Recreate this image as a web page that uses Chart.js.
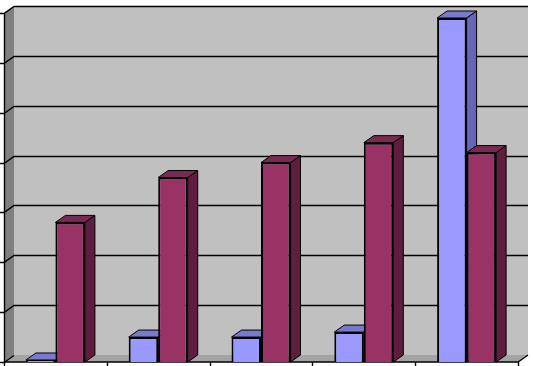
<!DOCTYPE html>
<html>
<head>
<meta charset="utf-8">
<script src="https://cdn.jsdelivr.net/npm/chart.js@4/dist/chart.umd.min.js"></script>
<style>
  html, body { margin: 0; padding: 0; background: #fff; }
  #wrap { width: 533px; height: 366px; }
</style>
</head>
<body>
<div id="wrap"><canvas id="grafico"></canvas></div>
<script>
// categories (no labels shown in the picture)
const categorias = ['1', '2', '3', '4', '5'];
// series values
const serie1 = [0.4, 5, 5, 6, 69];
const serie2 = [28, 37, 40, 44, 42];
// value axis
const yMin = 0;
const yMax = 70;
const yPaso = 10;

// 3d look
const fondo = '#c0c0c0';
const paredIzq = '#808080';
const piso = '#a4a4a4';
const prof = { dx: 10, dy: -7 };
const caras = [
  { frente: '#9999ff', lado: '#6666b3', techo: '#7a7acc' },
  { frente: '#993366', lado: '#5e1f3f', techo: '#7a2952' }
];

function poly (ctx, pts, fill) {
  ctx.beginPath();
  ctx.moveTo(pts[0][0], pts[0][1]);
  for (let i = 1; i < pts.length; i++) ctx.lineTo(pts[i][0], pts[i][1]);
  ctx.closePath();
  ctx.fillStyle = fill;
  ctx.fill();
  ctx.strokeStyle = '#000';
  ctx.lineWidth = 1;
  ctx.stroke();
}

const caja3d = {
  id: 'caja3d',
  beforeDatasetsDraw (chart) {
    const ctx = chart.ctx;
    const a = chart.chartArea;
    const y = chart.scales.y;
    const dx = prof.dx, dy = prof.dy;
    ctx.save();
    // back wall
    ctx.fillStyle = fondo;
    ctx.fillRect(a.left + dx, a.top + dy, a.right - a.left, a.bottom - a.top);
    // left wall
    ctx.beginPath();
    ctx.moveTo(a.left, a.top);
    ctx.lineTo(a.left + dx, a.top + dy);
    ctx.lineTo(a.left + dx, a.bottom + dy);
    ctx.lineTo(a.left, a.bottom);
    ctx.closePath();
    ctx.fillStyle = paredIzq;
    ctx.fill();
    // floor
    ctx.beginPath();
    ctx.moveTo(a.left, a.bottom);
    ctx.lineTo(a.left + dx, a.bottom + dy);
    ctx.lineTo(a.right + dx, a.bottom + dy);
    ctx.lineTo(a.right, a.bottom);
    ctx.closePath();
    ctx.fillStyle = piso;
    ctx.fill();
    // grid lines
    ctx.strokeStyle = '#000';
    ctx.lineWidth = 1.4;
    for (let v = yMin; v <= yMax; v += yPaso) {
      const py = Math.round(y.getPixelForValue(v)) + 0.5;
      ctx.beginPath();
      ctx.moveTo(a.left - 4, py);
      ctx.lineTo(a.left, py);
      ctx.lineTo(a.left + dx, py + dy);
      if (v > yMin) ctx.lineTo(a.right + dx, py + dy);
      ctx.stroke();
    }
    // axes
    ctx.beginPath();
    ctx.moveTo(a.left + 0.5, a.top);
    ctx.lineTo(a.left + 0.5, a.bottom);
    ctx.lineTo(a.right, a.bottom);
    ctx.lineTo(a.right + dx, a.bottom + dy);
    ctx.stroke();
    // category ticks
    for (let i = 0; i <= categorias.length; i++) {
      const px = Math.round(a.left + (a.right - a.left) * i / categorias.length) + 0.5;
      ctx.beginPath();
      ctx.moveTo(px, a.bottom);
      ctx.lineTo(px, a.bottom + 4);
      ctx.stroke();
    }
    // bar sides and tops
    for (let i = 0; i < categorias.length; i++) {
      chart.data.datasets.forEach((ds, d) => {
        const bar = chart.getDatasetMeta(d).data[i];
        const l = bar.x - bar.width / 2;
        const r = bar.x + bar.width / 2;
        const t = bar.y;
        const b = bar.base;
        poly(ctx, [[r, b], [r + dx, b + dy], [r + dx, t + dy], [r, t]], caras[d].lado);
        poly(ctx, [[l, t], [l + dx, t + dy], [r + dx, t + dy], [r, t]], caras[d].techo);
      });
    }
    ctx.restore();
  }
};

new Chart(document.getElementById('grafico').getContext('2d'), {
  type: 'bar',
  data: {
    labels: categorias,
    datasets: [
      { label: 'Serie 1', data: serie1, backgroundColor: caras[0].frente, borderColor: '#000', borderWidth: 2 },
      { label: 'Serie 2', data: serie2, backgroundColor: caras[1].frente, borderColor: '#000', borderWidth: 2 }
    ]
  },
  options: {
    responsive: true,
    maintainAspectRatio: false,
    animation: false,
    layout: { padding: { left: 4, right: 15, top: 13, bottom: 4 } },
    plugins: { legend: { display: false }, tooltip: { enabled: false } },
    datasets: { bar: { categoryPercentage: 0.574, barPercentage: 1 } },
    scales: {
      x: { display: false },
      y: { display: false, min: yMin, max: yMax, ticks: { stepSize: yPaso } }
    }
  },
  plugins: [caja3d]
});
</script>
</body>
</html>
